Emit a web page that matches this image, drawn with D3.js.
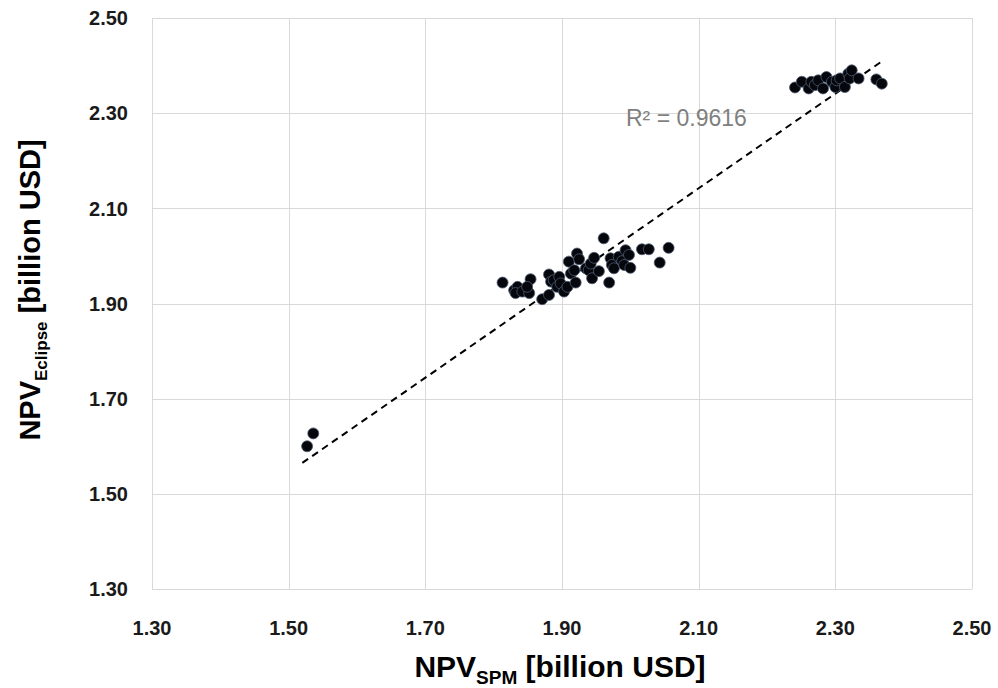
<!DOCTYPE html>
<html lang="en">
<head>
  <meta charset="UTF-8">
  <title>NPV SPM vs Eclipse</title>
  <script src="https://d3js.org/d3.v7.min.js"></script>
  <style>
    body { margin: 0; background: #fff; }
    svg { display: block; }
    .tick-label { font-family: "Liberation Sans", sans-serif; font-weight: bold; font-size: 20px; fill: #1a1a1a; }
    .axis-title { font-family: "Liberation Sans", sans-serif; font-weight: bold; fill: #000; }
    .grid { stroke: #d9d9d9; stroke-width: 1; }
  </style>
</head>
<body>
<svg width="998" height="688"></svg>
<script>
// NPV from SPM (x) and from Eclipse (y), billion USD
const spmNpv = [
  1.527, 1.536,
  1.813, 1.830, 1.835, 1.832, 1.842, 1.852, 1.854, 1.849, 1.871, 1.881,
  1.881, 1.884, 1.888, 1.893, 1.896, 1.898, 1.903, 1.908, 1.910, 1.913,
  1.918, 1.920, 1.922, 1.925, 1.935, 1.939, 1.942, 1.944, 1.947, 1.954,
  1.961, 1.969, 1.971, 1.973, 1.976, 1.983, 1.988, 1.991, 1.993, 1.998,
  2.000, 2.017, 2.027, 2.043, 2.056,
  2.241, 2.251, 2.261, 2.265, 2.270, 2.275, 2.282, 2.287, 2.295, 2.300,
  2.302, 2.307, 2.314, 2.319, 2.321, 2.324, 2.334, 2.360, 2.368
];
const eclipseNpv = [
  1.600, 1.627,
  1.944, 1.928, 1.935, 1.922, 1.925, 1.922, 1.951, 1.935, 1.909, 1.918,
  1.961, 1.946, 1.949, 1.935, 1.956, 1.942, 1.925, 1.935, 1.988, 1.963,
  1.970, 1.944, 2.005, 1.993, 1.974, 1.970, 1.984, 1.953, 1.996, 1.968,
  2.037, 1.944, 1.995, 1.981, 1.974, 1.998, 1.989, 1.981, 2.012, 2.002,
  1.975, 2.014, 2.014, 1.986, 2.017,
  2.354, 2.366, 2.352, 2.366, 2.359, 2.369, 2.352, 2.376, 2.366, 2.355,
  2.369, 2.373, 2.355, 2.383, 2.373, 2.390, 2.373, 2.371, 2.362
];
const tickValues = [1.30, 1.50, 1.70, 1.90, 2.10, 2.30, 2.50];

// linear trendline, as shown in the chart
const trendSlope = 0.995;
const trendIntercept = 0.0526;
const trendRange = [1.52, 2.37];
const rSquared = "0.9616";

const svg = d3.select("svg");
const margin = { left: 152, right: 26, top: 18, bottom: 99 };
const width = 998, height = 688;

const x = d3.scaleLinear().domain([1.3, 2.5]).range([margin.left, width - margin.right]);
const y = d3.scaleLinear().domain([1.3, 2.5]).range([height - margin.bottom, margin.top]);

// grid
svg.append("g").selectAll("line")
  .data(tickValues)
  .join("line")
  .attr("class", "grid")
  .attr("x1", d => Math.round(x(d)) + 0.5).attr("x2", d => Math.round(x(d)) + 0.5)
  .attr("y1", y(2.5)).attr("y2", y(1.3));

svg.append("g").selectAll("line")
  .data(tickValues)
  .join("line")
  .attr("class", "grid")
  .attr("y1", d => Math.round(y(d)) + 0.5).attr("y2", d => Math.round(y(d)) + 0.5)
  .attr("x1", x(1.3)).attr("x2", x(2.5));

// tick labels
svg.append("g").selectAll("text")
  .data(tickValues)
  .join("text")
  .attr("class", "tick-label")
  .attr("x", d => x(d))
  .attr("y", y(1.3) + 46)
  .attr("text-anchor", "middle")
  .text(d => d.toFixed(2));

svg.append("g").selectAll("text")
  .data(tickValues)
  .join("text")
  .attr("class", "tick-label")
  .attr("x", x(1.3) - 24)
  .attr("y", d => y(d))
  .attr("dy", "0.36em")
  .attr("text-anchor", "end")
  .text(d => d.toFixed(2));

// trendline
svg.append("line")
  .attr("x1", x(trendRange[0])).attr("y1", y(trendIntercept + trendSlope * trendRange[0]))
  .attr("x2", x(trendRange[1])).attr("y2", y(trendIntercept + trendSlope * trendRange[1]))
  .attr("stroke", "#000")
  .attr("stroke-width", 2)
  .attr("stroke-dasharray", "7,5");

// points
svg.append("g").selectAll("circle")
  .data(d3.range(spmNpv.length))
  .join("circle")
  .attr("cx", i => x(spmNpv[i]))
  .attr("cy", i => y(eclipseNpv[i]))
  .attr("r", 5.5)
  .attr("fill", "#05070c")
  .attr("stroke", "#4c5a70")
  .attr("stroke-width", 0.8);

// R² label
svg.append("text")
  .attr("x", 626).attr("y", 126)
  .attr("font-family", "Liberation Sans, sans-serif")
  .attr("font-size", 23)
  .attr("fill", "#7f7f7f")
  .text("R² = " + rSquared);

// axis titles
const xt = svg.append("text")
  .attr("class", "axis-title")
  .attr("font-size", 30)
  .attr("x", 560)
  .attr("y", 677)
  .attr("text-anchor", "middle");
xt.append("tspan").text("NPV");
xt.append("tspan").attr("font-size", 19).attr("dy", 7).text("SPM");
xt.append("tspan").attr("dy", -7).text(" [billion USD]");

const yt = svg.append("text")
  .attr("class", "axis-title")
  .attr("font-size", 29)
  .attr("transform", `translate(40,290) rotate(-90)`)
  .attr("text-anchor", "middle");
yt.append("tspan").text("NPV");
yt.append("tspan").attr("font-size", 17).attr("dy", 7).text("Eclipse");
yt.append("tspan").attr("dy", -7).text(" [billion USD]");
</script>
</body>
</html>
